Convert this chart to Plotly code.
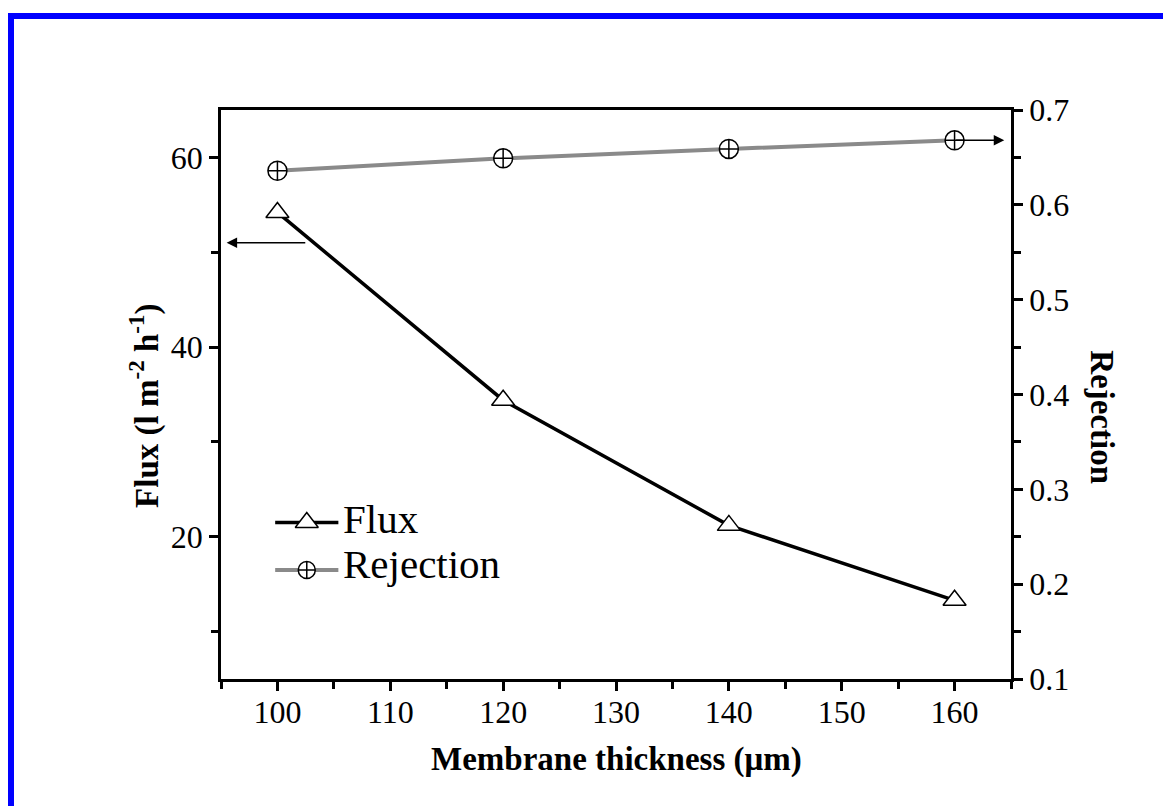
import plotly.graph_objects as go

# Membrane thickness (µm)
thickness = [100, 120, 140, 160]
# Permeate flux (l m^-2 h^-1)
flux = [54.2, 34.4, 21.2, 13.3]
# Salt rejection (fraction)
rejection = [0.636, 0.649, 0.659, 0.668]

x_ticks = [100, 110, 120, 130, 140, 150, 160]
flux_ticks = [20, 40, 60]
rej_ticks = [0.1, 0.2, 0.3, 0.4, 0.5, 0.6, 0.7]

FONT = "Liberation Serif, Times New Roman, serif"

fig = go.Figure()

fig.add_trace(go.Scatter(
    x=thickness, y=flux, name="Flux", mode="lines+markers",
    line=dict(color="black", width=3.5),
    marker=dict(symbol="triangle-up", size=20, color="white",
                line=dict(color="black", width=1.5)),
    yaxis="y", showlegend=False, cliponaxis=False,
))
fig.add_trace(go.Scatter(
    x=thickness, y=rejection, name="Rejection", mode="lines+markers",
    line=dict(color="#8a8a8a", width=4),
    marker=dict(symbol="circle-cross", size=19, color="white",
                line=dict(color="black", width=1.5)),
    yaxis="y2", showlegend=False, cliponaxis=False,
))

axis_common = dict(
    showline=True, linecolor="black", linewidth=2.5,
    ticks="outside", ticklen=9, tickwidth=2.5, tickcolor="black",
    showgrid=False, zeroline=False,
    tickfont=dict(family=FONT, size=32, color="black"),
)

fig.update_layout(
    width=1163, height=806,
    margin=dict(l=221, r=152, t=110, b=127),
    paper_bgcolor="white", plot_bgcolor="white",
    xaxis=dict(range=[95, 165], tickvals=x_ticks, mirror=True,
               ticklabelstandoff=-6,
               minor=dict(dtick=5, tick0=95, ticks="outside", ticklen=7,
                          tickwidth=2.5, tickcolor="black"),
               **axis_common),
    yaxis=dict(range=[5, 65], tickvals=flux_ticks,
               minor=dict(dtick=10, tick0=10, ticks="outside", ticklen=7,
                          tickwidth=2.5, tickcolor="black"),
               **axis_common),
    yaxis2=dict(range=[0.1, 0.7], tickvals=rej_ticks, overlaying="y",
                side="right", tickformat=".1f",
                minor=dict(dtick=0.05, tick0=0.05, ticks="outside", ticklen=7,
                           tickwidth=2.5, tickcolor="black"),
                **axis_common),
)

# axis titles
fig.add_annotation(
    xref="paper", yref="paper", x=0.5, y=-0.105, yanchor="top", xanchor="center",
    text="<b>Membrane thickness (μm)</b>", showarrow=False,
    font=dict(family=FONT, size=33, color="black"),
)
fig.add_annotation(
    xref="paper", yref="paper", x=(145 - 221) / 790, y=0.48, textangle=-90,
    xanchor="center", yanchor="middle",
    text="<b>Flux (l m<sup>-2</sup> h<sup>-1</sup>)</b>", showarrow=False,
    font=dict(family=FONT, size=33, color="black"),
)
fig.add_annotation(
    xref="paper", yref="paper", x=(1102 - 221) / 790, y=0.46, textangle=90,
    xanchor="center", yanchor="middle",
    text="<b>Rejection</b>", showarrow=False,
    font=dict(family=FONT, size=33, color="black"),
)

# arrows pointing each series to its own axis
fig.add_annotation(
    x=95.5, y=51.0, ax=102.6, ay=51.0, xref="x", yref="y", axref="x", ayref="y",
    showarrow=True, arrowhead=2, arrowsize=1.4, arrowwidth=1.5,
    arrowcolor="black", text="",
)
fig.add_annotation(
    x=164.4, y=rejection[-1], ax=thickness[-1], ay=rejection[-1],
    xref="x", yref="y2", axref="x", ayref="y2",
    showarrow=True, arrowhead=2, arrowsize=1.4, arrowwidth=1.5,
    arrowcolor="black", text="",
)

# legend drawn inside the plot
legend_items = [("Flux", "black", 3.5, "triangle-up", 20, 21.5, 4),
                ("Rejection", "#8a8a8a", 4, "circle-cross", 17, 16.5, 6)]
for label, col, lw, sym, msz, yv, lift in legend_items:
    fig.add_trace(go.Scatter(
        x=[99.8, 105.4], y=[yv, yv], mode="lines", line=dict(color=col, width=lw),
        showlegend=False, hoverinfo="skip", cliponaxis=False,
    ))
    fig.add_trace(go.Scatter(
        x=[102.6], y=[yv], mode="markers",
        marker=dict(symbol=sym, size=msz, color="white",
                    line=dict(color="black", width=1.5)),
        showlegend=False, hoverinfo="skip", cliponaxis=False,
    ))
    fig.add_annotation(
        x=105.6, y=yv, xref="x", yref="y", xanchor="left", showarrow=False,
        yshift=lift,
        text=label, font=dict(family=FONT, size=41, color="black"),
    )

# blue frame along the top and left edges of the page
fig.add_shape(type="rect", xref="paper", yref="paper",
              x0=(8 - 221) / 790, x1=(14 - 221) / 790,
              y0=-0.3, y1=1 + (110 - 13) / 569,
              fillcolor="blue", line=dict(width=0), layer="above")
fig.add_shape(type="rect", xref="paper", yref="paper",
              x0=(8 - 221) / 790, x1=1.3,
              y0=1 + (110 - 19) / 569, y1=1 + (110 - 13) / 569,
              fillcolor="blue", line=dict(width=0), layer="above")

fig.write_html("out.html")
